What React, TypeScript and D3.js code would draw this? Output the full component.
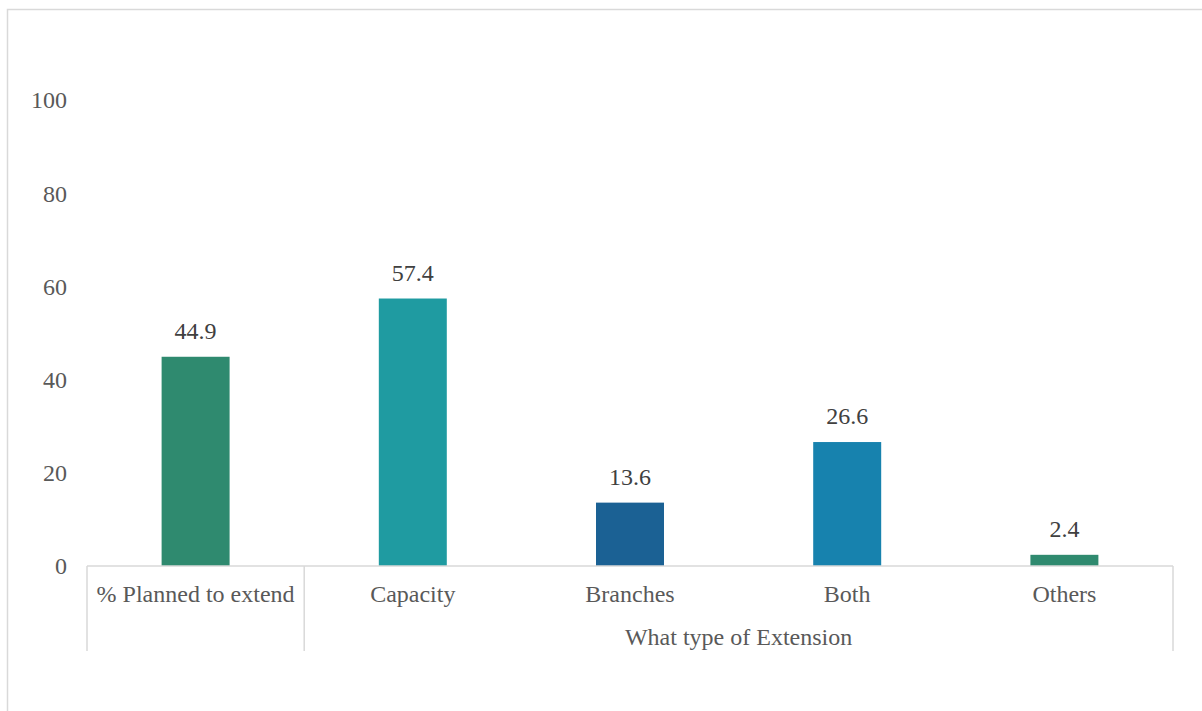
import React from "react";
import * as d3 from "d3";

const categories = ["% Planned to extend", "Capacity", "Branches", "Both", "Others"];
const values = [44.9, 57.4, 13.6, 26.6, 2.4];
const barColors = ["#2f8a6f", "#1f9ba1", "#1b6194", "#1782ae", "#2f8a6f"];
const yTicks = [0, 20, 40, 60, 80, 100];
const groupLabel = "What type of Extension";

export default function App() {
  const W = 1202, H = 711;
  const left = 87, right = 1173, base = 566, top = 100;
  const x = d3.scaleBand<string>().domain(categories).range([left, right]).paddingInner(0).paddingOuter(0);
  const y = d3.scaleLinear().domain([0, 100]).range([base, top]);
  const bw = x.bandwidth() * 0.313;
  const fs = 24;
  const groupStart = x(categories[1])!;
  return (
    <svg width={W} height={H} style={{ position: "absolute", left: 0, top: 0, fontFamily: "'Liberation Serif', 'Times New Roman', serif" }}>
      <rect x={0} y={0} width={W} height={H} fill="#fff" />
      <rect x={7.5} y={9.5} width={W + 10} height={H + 10} fill="none" stroke="#d9d9d9" strokeWidth={1.5} />
      {yTicks.map((t) => (
        <text key={t} x={67} y={y(t)} dy="0.35em" textAnchor="end" fontSize={fs} fill="#595959">{t}</text>
      ))}
      {categories.map((c, i) => {
        const cx = x(c)! + x.bandwidth() / 2;
        return (
          <g key={c}>
            <rect x={cx - bw / 2} y={y(values[i])} width={bw} height={base - y(values[i])} fill={barColors[i]} />
            <text x={cx} y={y(values[i]) - 18} textAnchor="middle" fontSize={fs} fill="#404040">{values[i]}</text>
            <text x={cx} y={594} dy="0.35em" textAnchor="middle" fontSize={fs} fill="#595959">{c}</text>
          </g>
        );
      })}
      <line x1={left} x2={right} y1={base} y2={base} stroke="#d9d9d9" strokeWidth={1.5} />
      {[left, groupStart, right].map((lx, i) => (
        <line key={i} x1={lx} x2={lx} y1={base} y2={651} stroke="#d9d9d9" strokeWidth={1.5} />
      ))}
      <text x={(groupStart + right) / 2} y={637} dy="0.35em" textAnchor="middle" fontSize={fs} fill="#595959">{groupLabel}</text>
    </svg>
  );
}
